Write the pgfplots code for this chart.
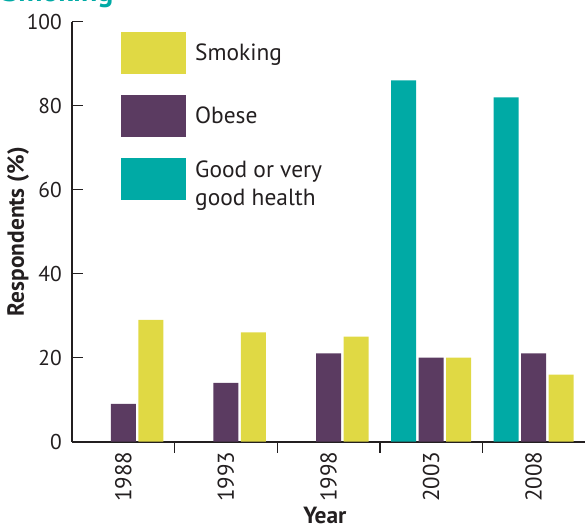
\documentclass[border=0pt]{standalone}
\usepackage{fontspec}
\setmainfont{PT Sans}
\usepackage{pgfplots}
\pgfplotsset{compat=1.18}

\definecolor{smokeyellow}{HTML}{E0D944}
\definecolor{obesepurple}{HTML}{5B3B61}
\definecolor{healthteal}{HTML}{00AAA5}
\definecolor{inkgray}{HTML}{231F20}

\begin{document}
\begin{tikzpicture}[font=\fontsize{23.5}{28}\selectfont]
\begin{axis}[
  scale only axis,
  width=513bp, height=420bp,
  xmin=-0.5, xmax=4.5, ymin=0, ymax=100,
  axis x line=bottom, axis y line=left,
  axis line style={-, draw=inkgray, line width=1.6bp},
  tick align=inside,
  tick style={draw=inkgray, line width=1.4bp},
  major tick length=11bp,
  % group separators on the x axis
  xtick={0.5,1.5,2.5,3.5}, xticklabels={},
  % year labels at the group centres
  extra x ticks={0,1,2,3,4},
  extra x tick labels={1988,1993,1998,2003,2008},
  extra x tick style={major tick length=0pt},
  xticklabel style={rotate=90, anchor=east, inner sep=0pt, text=inkgray,
    font=\fontsize{23}{28}\selectfont},
  xticklabel shift=10bp,
  ytick={0,20,...,100},
  yticklabel style={anchor=east, inner sep=0pt, text=inkgray,
    font=\fontsize{21.5}{26}\selectfont},
  yticklabel shift=10bp,
  /pgf/number format/assume math mode=true,
  ylabel={\bfseries Respondents (\%)},
  ylabel style={at={(axis description cs:-0.105,0.5)}, anchor=center, text=inkgray},
  xlabel={\bfseries Year},
  xlabel style={at={(axis description cs:0.493,-0.175)}, anchor=center, text=inkgray},
  ybar, bar width=25bp,
  legend style={at={(axis description cs:0.0955,0.9755)}, anchor=north west,
    draw=none, fill=none, inner sep=0pt, row sep=21bp,
    nodes={inner sep=0pt, anchor=west, text=inkgray},
    /tikz/every odd column/.append style={column sep=9bp}},
  legend cell align=left,
  reverse legend,
  legend image code/.code={\fill[#1] (0bp,-21bp) rectangle (65bp,21bp);},
]
\addplot[fill=healthteal, draw=none, bar shift=-27.5bp]
  coordinates {(3,86) (4,82)};
\addlegendentry{\parbox[c][42bp][c]{6cm}{Good or very\\good health}}
\addplot[fill=obesepurple, draw=none, bar shift=0bp]
  coordinates {(0,9) (1,14) (2,21) (3,20) (4,21)};
\addlegendentry{Obese}
\addplot[fill=smokeyellow, draw=none, bar shift=27.5bp]
  coordinates {(0,29) (1,26) (2,25) (3,20) (4,16)};
\addlegendentry{Smoking}
\end{axis}
\node[anchor=base east, font=\fontsize{30}{36}\selectfont\bfseries, text=healthteal]
  at (45bp,439.7bp) {Smoking};
\pgfresetboundingbox
\useasboundingbox (-72bp,-85.3bp) rectangle (513bp,441.7bp);
\end{tikzpicture}
\end{document}
